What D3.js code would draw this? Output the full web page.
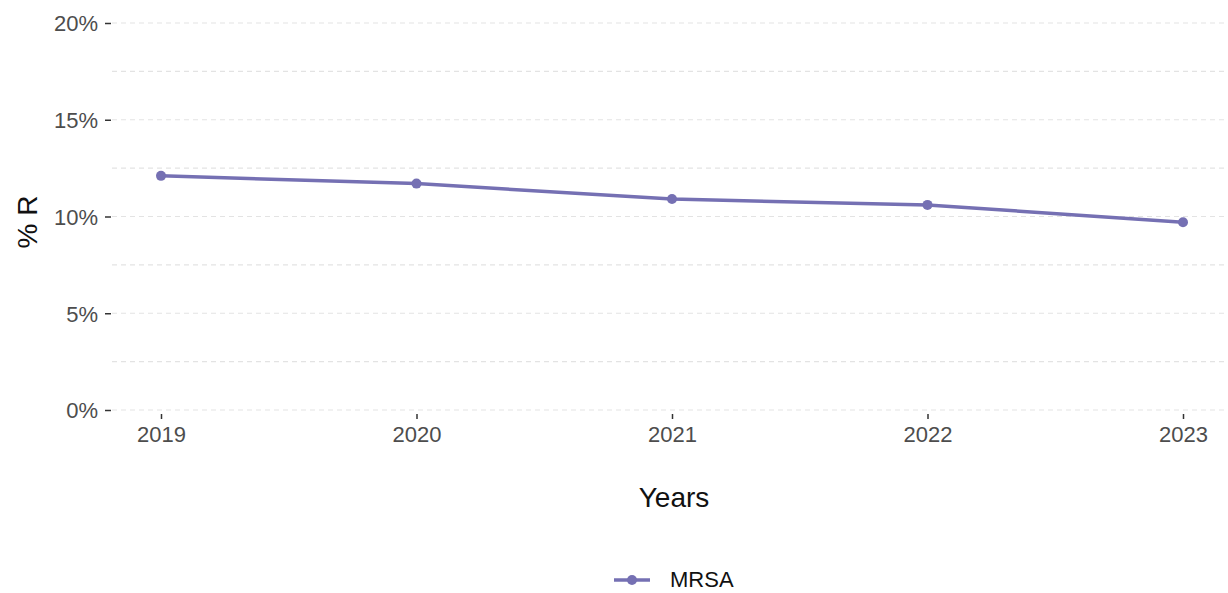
<!DOCTYPE html>
<html><head><meta charset="utf-8">
<script src="https://cdn.jsdelivr.net/npm/d3@7"></script>
<style>body{margin:0;background:#fff;} svg{display:block;font-family:"Liberation Sans",Arial,sans-serif;}</style>
</head><body><svg id="c" width="1228" height="593"></svg>
<script>
const years = ["2019","2020","2021","2022","2023"];
const mrsa = [12.1, 11.7, 10.9, 10.6, 9.7];
const yTicks = [0, 5, 10, 15, 20];
const yGrid = [0, 2.5, 5, 7.5, 10, 12.5, 15, 17.5, 20];
const seriesName = "MRSA";

const svg = d3.select("#c");
const color = "#7570B3";
const x = d3.scalePoint().domain(years).range([161, 1183]);
const y = d3.scaleLinear().domain([0, 20]).range([410, 23]);

svg.append("g").selectAll("line").data(yGrid).join("line")
  .attr("x1", 112).attr("x2", 1225)
  .attr("y1", d => y(d)).attr("y2", d => y(d))
  .attr("stroke", "#e3e3e3").attr("stroke-width", 1.2).attr("stroke-dasharray", "5,4");

const yAxis = svg.append("g").attr("transform", "translate(111,0)")
  .call(d3.axisLeft(y).tickValues(yTicks).tickFormat(d => d + "%").tickSize(6).tickPadding(7));
yAxis.select(".domain").remove();
yAxis.selectAll(".tick line").attr("stroke", "#333").attr("stroke-width", 1.5);
yAxis.selectAll("text").attr("fill", "#4d4d4d").style("font-size", "22px").attr("dy", "0.36em");

const xAxis = svg.append("g").attr("transform", "translate(0,414)")
  .call(d3.axisBottom(x).tickSize(5).tickPadding(6));
xAxis.select(".domain").remove();
xAxis.selectAll(".tick line").attr("stroke", "#333").attr("stroke-width", 1.5);
xAxis.selectAll("text").attr("fill", "#4d4d4d").style("font-size", "22px").attr("y", 20).attr("dy", "0.36em");

svg.append("path").datum(mrsa)
  .attr("fill", "none").attr("stroke", color).attr("stroke-width", 3.5)
  .attr("d", d3.line().x((d, i) => x(years[i])).y(d => y(d)));
svg.append("g").selectAll("circle").data(mrsa).join("circle")
  .attr("cx", (d, i) => x(years[i])).attr("cy", d => y(d)).attr("r", 5).attr("fill", color);

svg.append("text").attr("transform", "translate(27,222) rotate(-90)")
  .attr("text-anchor", "middle").attr("dy", "0.36em").style("font-size", "28px").attr("fill", "#111").text("% R");
svg.append("text").attr("x", 674).attr("y", 497)
  .attr("text-anchor", "middle").attr("dy", "0.36em").style("font-size", "28px").attr("fill", "#111").text("Years");

const lg = svg.append("g");
lg.append("line").attr("x1", 614).attr("x2", 650).attr("y1", 580).attr("y2", 580)
  .attr("stroke", color).attr("stroke-width", 3.5);
lg.append("circle").attr("cx", 632).attr("cy", 580).attr("r", 5).attr("fill", color);
lg.append("text").attr("x", 670).attr("y", 579).attr("dy", "0.36em").style("font-size", "22px").attr("fill", "#111").text(seriesName);
</script></body></html>
